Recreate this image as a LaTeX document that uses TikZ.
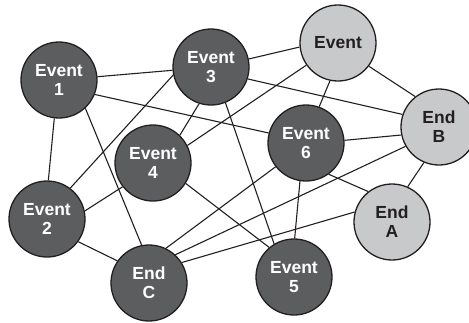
\documentclass[tikz,border=0pt]{standalone}
\usepackage{fontspec}
\setmainfont{Liberation Sans}
\definecolor{darkfill}{HTML}{5C5D5F}
\definecolor{lightfill}{HTML}{C8C9CB}
\definecolor{inkdark}{HTML}{231F20}

\begin{document}
\begin{tikzpicture}[
        x=1pt, y=-1pt,
        bubble/.style={
                circle,
                draw=inkdark,
                line width=1.3pt,
                minimum size=76pt,
                inner sep=0pt,
                align=center,
                font=\fontsize{17.5}{19}\selectfont\bfseries
            },
        event/.style = {bubble, fill=darkfill, text=white},
        outcome/.style = {bubble, fill=lightfill, text=inkdark},
        link/.style = {draw=inkdark, line width=1.1pt}
    ]
    \useasboundingbox (0,0) rectangle (469,322);

    \node[event] (e1) at (59,80) {Event\\1};
    \node[event] (e3) at (211,67) {Event\\3};
    \node[outcome] (top) at (338,43) {Event};
    \node[outcome] (endb) at (439,127) {End\\B};
    \node[event] (e6) at (306,143) {Event\\6};
    \node[event] (e4) at (153,163) {Event\\4};
    \node[event] (e2) at (47,219) {Event\\2};
    \node[outcome] (enda) at (392,222) {End\\A};
    \node[event] (endc) at (149,283) {End\\C};
    \node[event] (e5) at (294,277) {Event\\5};

    % links between the nodes
    \path[link] (e1) -- (e3);
    \path[link] (e1.-22) -- (e6.165);
    \path[link] (e1.-97) -- (e2.88);
    \path[link] (e1.-47) -- (endc.101);
    \path[link] (e3.12) -- (top.186);
    \path[link] (e3.-18) -- (endb.161);
    \path[link] (e3.-108) -- (e4.46);
    \path[link] (e3.192) -- (e2.53);
    \path[link] (e3.-68) -- (e5.121);
    \path[link] (top.215) -- (e4.27);
    \path[link] (top.-102) -- (e6.70);
    \path[link] (top.-37) -- (endb.128);
    \path[link] (e6.4) -- (endb.192);
    \path[link] (e6.-54) -- (enda.128);
    \path[link] (e6.-99) -- (e5.89);
    \path[link] (e6.218) -- (endc.64);
    \path[link] (endb.210) -- (endc.47);
    \path[link] (endb.-113) -- (enda.66);
    \path[link] (enda.165) -- (endc.32);
    \path[link] (e4.218) -- (e2.12);
    \path[link] (e4.-32) -- (e5.130);
    \path[link] (e2.-36) -- (endc.145);
\end{tikzpicture}
\end{document}
